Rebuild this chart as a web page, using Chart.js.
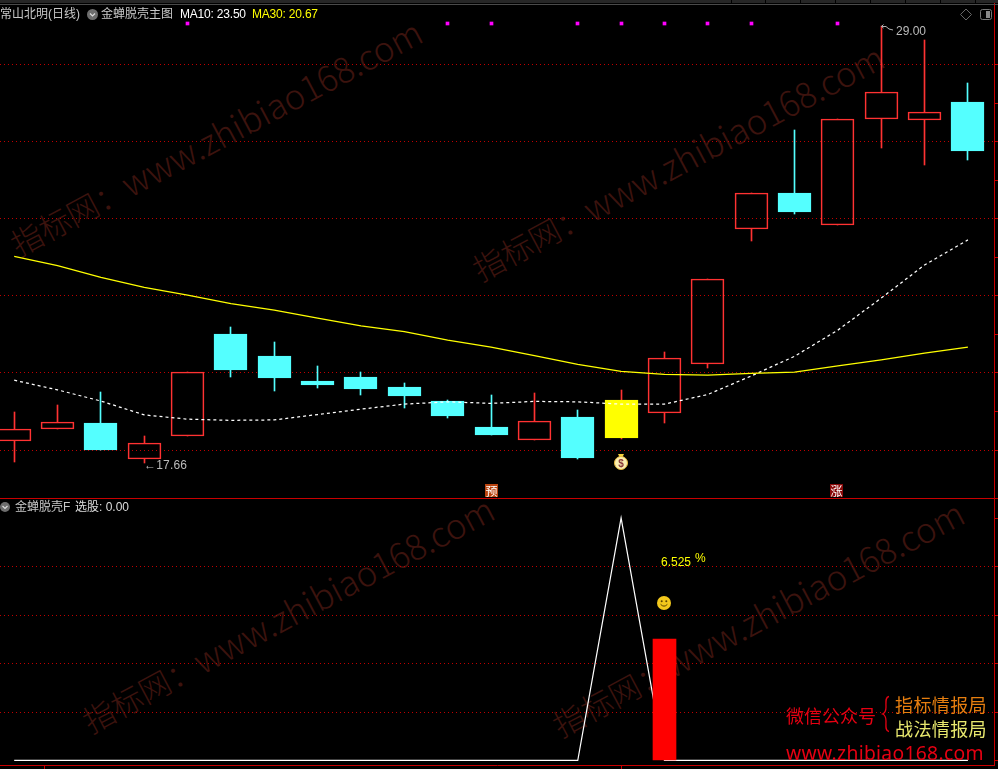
<!DOCTYPE html>
<html lang="zh-CN">
<head>
<meta charset="utf-8">
<title>金蝉脱壳主图</title>
<script src="https://cdn.jsdelivr.net/npm/chart.js@4"></script>
<style>
html,body{margin:0;padding:0;background:#000;width:998px;height:769px;overflow:hidden}
#stage{position:relative;width:998px;height:769px;overflow:hidden;background:#000;font:12px "Liberation Sans","Noto Sans CJK SC",sans-serif;color:#c8c8c8}
canvas{position:absolute;left:0;display:block}
#c1{top:0}
#c2{top:498px}
.t{position:absolute;white-space:nowrap;line-height:14px;z-index:3}
.wm{position:absolute;white-space:nowrap;font:300 34.7px/1 "Noto Sans CJK SC","Noto Sans",sans-serif;color:#3c130e;transform-origin:0 100%;transform:rotate(-28deg);z-index:0}
.wm span{font-size:31.5px}
.box{position:absolute;z-index:3;box-sizing:border-box}
.promo{position:absolute;white-space:nowrap;font:18px/22px "Noto Sans CJK SC",sans-serif;z-index:4}
svg{position:absolute;z-index:3;overflow:visible}
</style>
</head>
<body>
<div id="stage">
  <div class="wm" style="left:20px;top:225px"><span>指标网：</span>www.zhibiao168.com</div>
  <div class="wm" style="left:482px;top:250px"><span>指标网：</span>www.zhibiao168.com</div>
  <div class="wm" style="left:92px;top:702px"><span>指标网：</span>www.zhibiao168.com</div>
  <div class="wm" style="left:562px;top:706px"><span>指标网：</span>www.zhibiao168.com</div>

  <canvas id="c1" width="998" height="499"></canvas>
  <canvas id="c2" width="998" height="271"></canvas>

  <div class="box" style="left:0;top:0;width:998px;height:3px;background:#262626"></div>
  <div class="box" style="left:731px;top:0;width:1px;height:3px;background:#000"></div>
  <div class="box" style="left:765px;top:0;width:1px;height:3px;background:#000"></div>
  <div class="box" style="left:800px;top:0;width:1px;height:3px;background:#000"></div>
  <div class="box" style="left:835px;top:0;width:1px;height:3px;background:#000"></div>
  <div class="box" style="left:870px;top:0;width:1px;height:3px;background:#000"></div>
  <div class="box" style="left:905px;top:0;width:1px;height:3px;background:#000"></div>
  <div class="box" style="left:940px;top:0;width:1px;height:3px;background:#000"></div>
  <div class="box" style="left:975px;top:0;width:1px;height:3px;background:#000"></div>
  <div class="box" style="left:0;top:4px;width:998px;height:1px;background:#4a4a4a"></div>
  <div class="box" style="left:994px;top:498px;width:4px;height:1px;background:#c80000"></div>

  <div class="t" style="left:0;top:7px">常山北明(日线)</div>
  <svg style="left:87px;top:9px" width="12" height="12"><circle cx="5.5" cy="5.5" r="5.5" fill="#6e6e6e"/><path d="M3 4.5 L5.5 7 L8 4.5" fill="none" stroke="#ddd" stroke-width="1.2"/></svg>
  <div class="t" style="left:101px;top:7px">金蝉脱壳主图</div>
  <div class="t" style="left:180px;top:7px;color:#fff;letter-spacing:-.2px">MA10: 23.50</div>
  <div class="t" style="left:252px;top:7px;color:#ff0;letter-spacing:-.2px">MA30: 20.67</div>
  <svg style="left:960px;top:8px" width="34" height="14"><path d="M6 1 L11.5 6.5 L6 12 L0.5 6.5 Z" fill="none" stroke="#666"/><rect x="20.5" y="1.5" width="11" height="10" rx="2" fill="none" stroke="#777"/><rect x="26" y="3" width="4" height="7" fill="#888"/></svg>

  <svg style="left:880px;top:24px" width="16" height="10"><path d="M3.5 0.5 L1.5 2.5 L3.5 4 M1.5 2.5 L6 2.5 L9 5 L13 6" fill="none" stroke="#b0b0b0"/></svg>
  <div class="t" style="left:896px;top:24px;color:#bbb">29.00</div>
  <div class="t" style="left:144px;top:458px;color:#bbb;letter-spacing:.2px">←17.66</div>

  <div class="box" style="left:485px;top:484px;width:13px;height:13px;background:#b8430f;color:#fff;font:12px/13px 'Noto Sans CJK SC';text-align:center">预</div>
  <div class="box" style="left:830px;top:484px;width:13px;height:13px;background:#8a0a0a;color:#fff;font:12px/13px 'Noto Sans CJK SC';text-align:center">涨</div>

  <svg style="left:613px;top:453px" width="16" height="17"><path d="M5 1 L11 1 L9.5 4 L6.5 4 Z" fill="#f4d23c"/><circle cx="8" cy="10" r="6.5" fill="#fbeeb0" stroke="#e8b93a"/><text x="8" y="13.5" font-size="10" font-weight="bold" text-anchor="middle" fill="#8a3a3a" font-family="Liberation Sans">$</text></svg>

  <svg style="left:0;top:502px" width="11" height="11"><circle cx="5" cy="5" r="5" fill="#6e6e6e"/><path d="M2.5 4 L5 6.5 L7.5 4" fill="none" stroke="#ddd" stroke-width="1.2"/></svg>
  <div class="t" style="left:15px;top:500px">金蝉脱壳F</div>
  <div class="t" style="left:75px;top:500px;color:#ddd">选股: 0.00</div>

  <div class="t" style="left:661px;top:555px;color:#ff0">6.525</div>
  <div class="t" style="left:695px;top:551px;color:#ff0">%</div>
  <svg style="left:657px;top:596px" width="14" height="14"><circle cx="7" cy="7" r="7" fill="#f3c81c"/><circle cx="4.7" cy="5.2" r="1" fill="#5c4300"/><circle cx="9.3" cy="5.2" r="1" fill="#5c4300"/><path d="M3.6 8.3 Q7 12 10.4 8.3" fill="none" stroke="#5c4300"/></svg>

  <div class="promo" style="left:786px;top:704px;color:#e60012">微信公众号</div>
  <svg style="left:881px;top:696px" width="10" height="36"><path d="M8 0.5 C4 1 5 6 5 11 C5 15 4 17 1.5 18 C4 19 5 21 5 25 C5 30 4 35 8 35.5" fill="none" stroke="#e60012" stroke-width="1.3"/></svg>
  <div class="promo" style="left:895px;top:693px;color:#e67e0f;letter-spacing:.4px">指标情报局</div>
  <div class="promo" style="left:895px;top:717px;color:#e8e86e;letter-spacing:.4px">战法情报局</div>
  <div class="promo" style="left:786px;top:742px;color:#e60012;font:19.3px/22px 'Noto Sans',sans-serif;letter-spacing:.3px">www.zhibiao168.com</div>
</div>

<script>
// Candle index along the time axis
const categories = [0,1,2,3,4,5,6,7,8,9,10,11,12,13,14,15,16,17,18,19,20,21,22];
const opens  = [18.24,18.55,18.70,17.77,18.37,21.01,20.44,19.79,19.89,19.63,19.27,18.60,18.27,18.86,18.31,18.97,20.22,23.74,24.67,23.84,26.59,26.57,27.03];
const closes = [18.54,18.72,18.00,18.17,20.02,20.08,19.87,19.69,19.58,19.40,18.88,18.39,18.74,17.79,19.30,20.38,22.44,24.66,24.17,26.58,27.28,26.76,25.76];
const highs  = [18.99,19.17,19.50,18.36,20.02,21.19,20.80,20.18,20.02,19.73,19.30,19.43,19.48,19.04,19.56,20.54,22.44,24.66,26.30,26.58,29.00,28.64,27.52];
const lows   = [17.68,18.55,18.00,17.66,18.37,19.90,19.54,19.61,19.43,19.09,18.83,18.39,18.27,17.77,18.29,18.71,20.13,23.43,24.12,23.84,25.84,25.38,25.52];
const ma10   = [19.81,19.56,19.27,18.91,18.80,18.77,18.78,18.92,19.06,19.19,19.25,19.21,19.26,19.25,19.19,19.19,19.44,19.92,20.43,21.11,21.94,22.80,23.45];
const ma30   = [23.02,22.78,22.48,22.22,22.02,21.80,21.63,21.42,21.22,21.07,20.85,20.67,20.45,20.22,20.04,19.96,19.94,19.99,20.02,20.18,20.34,20.51,20.67];
const signalCandles = [14];
const markerCandles = [4,10,11,13,14,15,16,17,19];
const markerBand = [29.03,29.10];
const priceGrid = [18,20,22,24,26,28];
const priceTicks = [18,19,20,21,22,23,24,25,26,27,28];
// Lower pane
const selectLine = [0,0,0,0,0,0,0,0,0,0,0,0,0,0,100,0,0,0,0,0,0,0,0];
const selectBarCandles = [15];
const selectBarValues = [50.1];
const lowerGrid = [20,40,60,80];
const lowerTicks = [0,20,40,60,80,100];
const dateTicks = [0.69,14];

const RED='#ff3232', CYAN='#54ffff', YELLOW='#ffff00', GRID='#c00000', AXIS='#c80000';

// Pixel-snap bars so their edges fall on whole pixels.
const snap = {id:'snap', afterDatasetsUpdate(chart){
  chart.data.datasets.forEach((d,i)=>{
    const m = chart.getDatasetMeta(i);
    if(m.type!=='bar') return;
    m.data.forEach(e=>{ e.x=Math.floor(e.x)+0.5; e.y=Math.round(e.y); e.base=Math.round(e.base); });
  });
}};

const xScale = (extra)=>Object.assign({
  type:'linear', offset:false, min:-0.32757, max:22.6021,
  ticks:{display:false}, border:{display:true,color:AXIS,width:1}
},extra);
const yScale = (min,max,ticks,grid)=>({
  position:'right', min, max,
  afterBuildTicks:s=>{s.ticks=ticks.map(value=>({value}));},
  afterFit:s=>{s.width=4;},
  ticks:{display:false},
  border:{display:true,color:AXIS,width:1,dash:[1,3]},
  grid:{
    color:c=>grid.includes(c.tick&&c.tick.value)?GRID:'rgba(0,0,0,0)',
    lineWidth:1, tickColor:AXIS, tickLength:4, tickBorderDash:[], drawTicks:true
  }
});
const base = {responsive:false,animation:false,events:[],
  layout:{padding:0},plugins:{legend:{display:false},tooltip:{enabled:false}}};

const isUp = i=>closes[i]>=opens[i];
const barColor = i=>signalCandles.includes(i)?YELLOW:(isUp(i)?RED:CYAN);
const wickColor = i=>isUp(i)?RED:CYAN;
const fillColor = i=>signalCandles.includes(i)?YELLOW:(isUp(i)?'rgba(0,0,0,0)':CYAN);

new Chart(document.getElementById('c1'),{
  type:'bar',
  plugins:[snap],
  data:{datasets:[
    {type:'line',order:0,data:categories.map(i=>({x:i,y:ma30[i]})),borderColor:YELLOW,borderWidth:1.25,pointRadius:0,tension:0},
    {type:'line',order:0,data:categories.map(i=>({x:i,y:ma10[i]})),borderColor:'#ffffff',borderWidth:1.25,borderDash:[3,3],pointRadius:0,tension:0},
    {order:1,grouped:false,barThickness:33,borderSkipped:false,borderWidth:1,
     data:categories.map(i=>({x:i,y:[opens[i],closes[i]]})),
     backgroundColor:categories.map(fillColor),borderColor:categories.map(barColor)},
    {order:2,grouped:false,barThickness:1,borderWidth:0,
     data:categories.map(i=>({x:i,y:[Math.max(opens[i],closes[i]),highs[i]]})),
     backgroundColor:categories.map(wickColor)},
    {order:2,grouped:false,barThickness:1,borderWidth:0,
     data:categories.map(i=>({x:i,y:[lows[i],Math.min(opens[i],closes[i])]})),
     backgroundColor:categories.map(wickColor)},
    {order:3,grouped:false,barThickness:3,borderWidth:0,
     data:markerCandles.map(i=>({x:i,y:markerBand})),backgroundColor:'#ff00ff'}
  ]},
  options:Object.assign({},base,{scales:{
    x:xScale({afterBuildTicks:s=>{s.ticks=[];},afterFit:s=>{s.height=1;},grid:{display:false,offset:false}}),
    y:yScale(16.755,29.673,priceTicks,priceGrid)
  }})
});

new Chart(document.getElementById('c2'),{
  type:'bar',
  plugins:[snap],
  data:{datasets:[
    {order:0,grouped:false,barThickness:23,borderWidth:0,
     data:selectBarCandles.map((c,k)=>({x:c,y:selectBarValues[k]})),backgroundColor:'#ff0000'},
    {type:'line',order:1,data:categories.map(i=>({x:i,y:selectLine[i]})),borderColor:'#ffffff',borderWidth:1.25,pointRadius:0,tension:0}
  ]},
  options:Object.assign({},base,{scales:{
    x:xScale({afterBuildTicks:s=>{s.ticks=dateTicks.map(value=>({value}));},afterFit:s=>{s.height=4;},
      grid:{offset:false,drawOnChartArea:false,drawTicks:true,tickLength:4,tickColor:AXIS,color:AXIS}}),
    y:yScale(-1.856,108.25,lowerTicks,lowerGrid)
  }})
});
</script>
</body>
</html>
